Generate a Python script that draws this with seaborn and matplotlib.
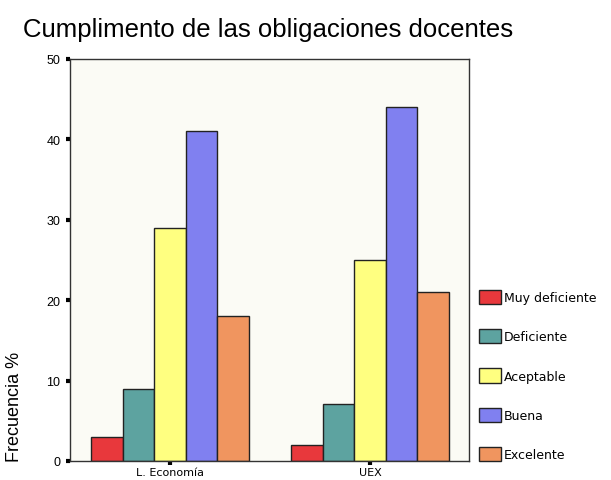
import pandas as pd
import matplotlib
matplotlib.use("Agg")
import matplotlib.pyplot as plt
import seaborn as sns

groups = ["L. Economía", "UEX"]
levels = ["Muy deficiente", "Deficiente", "Aceptable", "Buena", "Excelente"]
economia = [3, 9, 29, 41, 18]
uex = [2, 7.1, 25, 44, 21]
colors = ["#E8383C", "#5DA3A0", "#FFFF80", "#8080F0", "#F0955F"]

rows = []
for g, vals in zip(groups, [economia, uex]):
    for lvl, v in zip(levels, vals):
        rows.append({"Grupo": g, "Nivel": lvl, "Frecuencia": v})
df = pd.DataFrame(rows)

sns.set_theme(style="white")
plt.rcParams['font.family'] = ['Liberation Sans', 'DejaVu Sans']
plt.rcParams['text.color'] = 'black'
plt.rcParams['xtick.color'] = 'black'
plt.rcParams['ytick.color'] = 'black'
plt.rcParams['axes.labelcolor'] = 'black'

fig = plt.figure(figsize=(6.11, 4.81), dpi=100)
ax = fig.add_axes([70 / 611, 19 / 481, 399 / 611, 402 / 481])
ax.set_facecolor("#FBFBF5")

sns.barplot(data=df, x="Grupo", y="Frecuencia", hue="Nivel", order=groups,
            hue_order=levels, palette=colors, width=0.79, gap=0,
            edgecolor="#222222", linewidth=1.0, saturation=1, ax=ax)

ax.set_xlim(-0.5, 1.495)
ax.set_ylim(0, 50)
ax.set_yticks([0, 10, 20, 30, 40, 50])
for s in ax.spines.values():
    s.set_color("#333333")
    s.set_linewidth(1.0)
ax.tick_params(axis="both", direction="out", length=3, width=3, color="black",
               labelsize=9, pad=4, left=True, bottom=True)
ax.tick_params(axis="x", pad=1)
for lab in ax.get_xticklabels():
    lab.set_fontfamily("DejaVu Sans")
    lab.set_fontsize(8)
ax.set_xlabel("")
ax.set_ylabel("Frecuencia %", loc="bottom", fontsize=13, labelpad=17)

fig.text(23 / 611, 1 - 30 / 481, "Cumplimento de las obligaciones docentes",
         fontsize=18.5, ha="left", va="center")

ax.legend(loc="upper left", bbox_to_anchor=(1.0, 0.45), frameon=False,
          prop={"family": "DejaVu Sans", "size": 9},
          handlelength=1.75, handleheight=1.35, handletextpad=0.25,
          labelspacing=2.0, borderaxespad=0.4, title=None)

fig.savefig("out.png", dpi=100)
